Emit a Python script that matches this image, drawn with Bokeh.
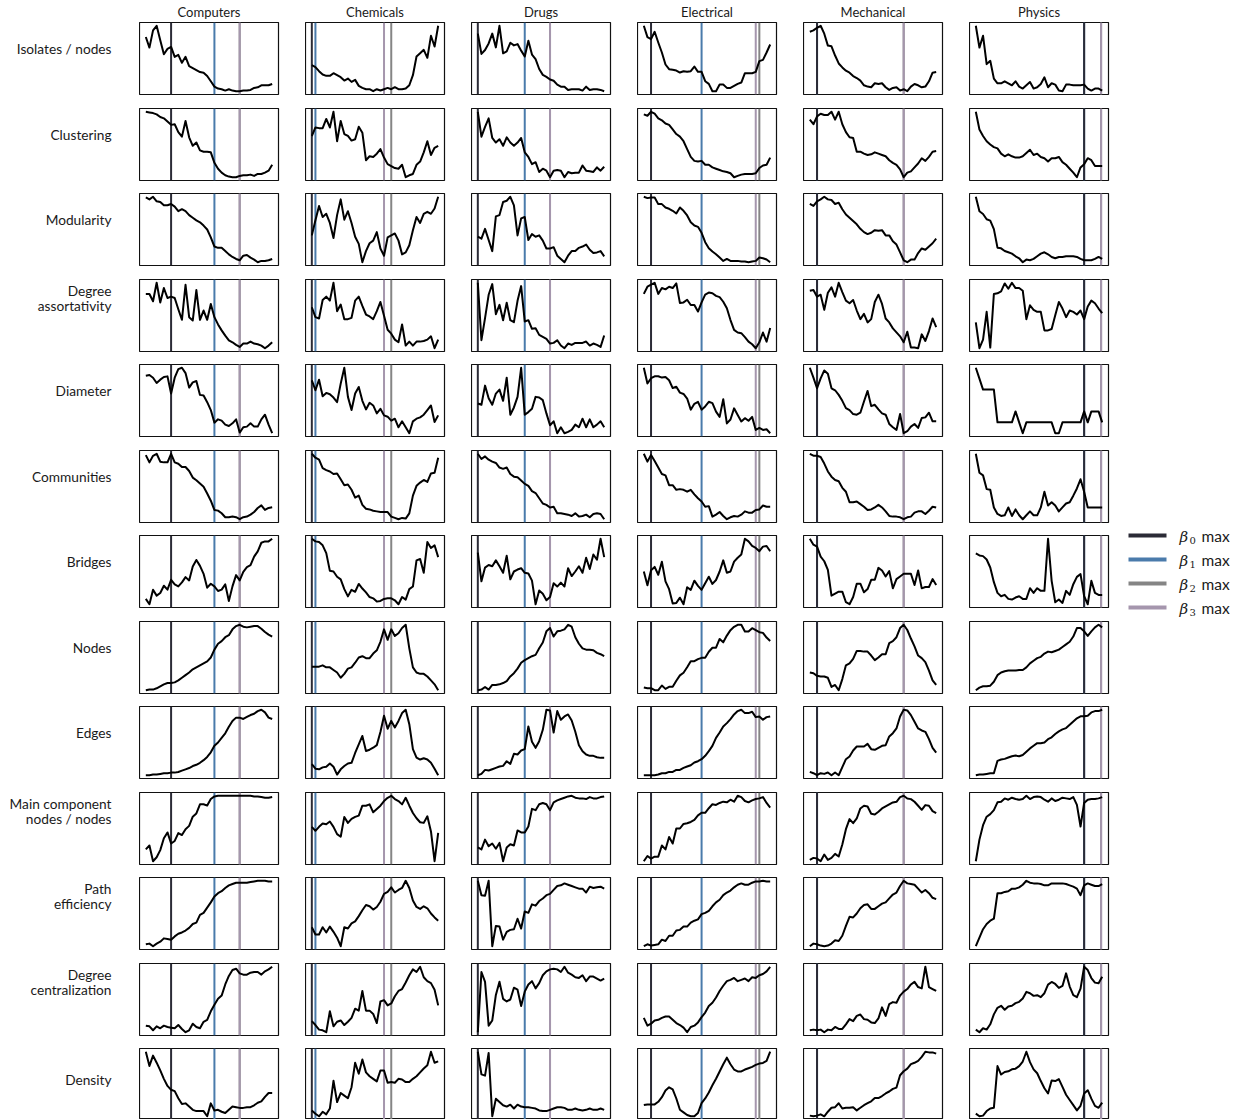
from bokeh.plotting import figure
from bokeh.layouts import row, column
from bokeh.models import Range1d, Span
from bokeh.embed import file_html
from bokeh.resources import INLINE
from bokeh.core.properties import value

fields = ["Computers", "Chemicals", "Drugs", "Electrical", "Mechanical", "Physics"]
steps = list(range(36))

# one list per field (order as in `fields`), each value a relative level along the 36 steps
isolates_nodes = [
    [83, 67, 93, 100, 78, 57, 65, 68, 53, 56, 44, 53, 39, 36, 33, 30, 29, 24, 16, 8, 5, 4, 2, 4, 2, 1, 1, 2, 2, 3, 6, 7, 10, 10, 10, 12],
    [41, 38, 32, 27, 25, 25, 29, 26, 23, 18, 21, 16, 19, 10, 7, 5, 5, 2, 5, 3, 5, 7, 5, 8, 5, 5, 6, 11, 26, 54, 59, 64, 52, 85, 69, 100],
    [88, 57, 63, 73, 88, 67, 100, 58, 61, 74, 70, 72, 62, 53, 77, 56, 49, 34, 25, 22, 18, 16, 10, 7, 7, 2, 3, 3, 3, 1, 7, 2, 3, 3, 2, 0],
    [100, 83, 80, 91, 75, 60, 42, 35, 34, 33, 30, 32, 31, 32, 39, 31, 31, 17, 13, 2, 2, 12, 12, 7, 7, 10, 13, 15, 29, 29, 29, 31, 47, 49, 60, 72],
    [91, 93, 97, 100, 88, 70, 69, 55, 43, 37, 32, 29, 24, 21, 17, 10, 8, 7, 13, 12, 13, 7, 3, 6, 7, 2, 4, 1, 8, 12, 10, 7, 8, 16, 29, 30],
    [100, 67, 85, 42, 47, 20, 13, 13, 16, 13, 10, 16, 8, 5, 10, 15, 5, 7, 12, 22, 7, 13, 11, 2, 1, 11, 11, 10, 10, 10, 11, 5, 2, 5, 5, 2],
]
clustering = [
    [100, 99, 98, 96, 92, 90, 85, 80, 81, 69, 62, 86, 61, 48, 53, 41, 39, 39, 38, 22, 13, 7, 3, 1, 0, 0, 2, 3, 3, 4, 2, 5, 5, 7, 10, 19],
    [63, 76, 75, 75, 89, 76, 100, 55, 86, 66, 63, 56, 58, 77, 68, 26, 32, 31, 36, 43, 30, 20, 17, 14, 13, 19, 0, 3, 5, 19, 24, 38, 55, 34, 45, 48],
    [100, 62, 77, 90, 60, 53, 58, 48, 61, 53, 48, 53, 60, 38, 31, 20, 23, 8, 13, 10, 0, 10, 11, 10, 0, 8, 6, 7, 7, 18, 10, 9, 8, 15, 10, 16],
    [96, 94, 100, 97, 90, 87, 82, 80, 73, 66, 62, 55, 43, 31, 25, 24, 25, 19, 19, 15, 13, 11, 9, 8, 6, 0, 2, 4, 5, 5, 5, 6, 14, 18, 19, 30],
    [88, 81, 93, 97, 95, 95, 100, 88, 100, 81, 69, 61, 60, 39, 39, 36, 34, 35, 38, 36, 34, 32, 26, 22, 19, 12, 0, 7, 9, 15, 21, 29, 25, 31, 39, 40],
    [100, 73, 63, 55, 50, 46, 44, 36, 32, 35, 32, 30, 30, 32, 37, 42, 34, 36, 31, 29, 24, 29, 29, 31, 23, 19, 13, 7, 0, 15, 20, 29, 26, 17, 17, 17],
]
modularity = [
    [99, 96, 100, 93, 92, 87, 87, 89, 85, 78, 81, 78, 72, 68, 64, 61, 56, 50, 38, 24, 22, 22, 17, 12, 8, 5, 3, 10, 11, 7, 4, 0, 2, 2, 3, 5],
    [41, 64, 86, 69, 74, 60, 37, 72, 96, 65, 78, 60, 39, 28, 0, 17, 29, 33, 46, 21, 10, 38, 41, 44, 33, 12, 15, 26, 49, 69, 60, 74, 77, 74, 82, 100],
    [39, 36, 51, 34, 17, 70, 72, 92, 94, 100, 87, 41, 67, 69, 34, 43, 39, 41, 33, 21, 21, 23, 10, 5, 0, 10, 17, 17, 22, 24, 27, 19, 14, 15, 17, 9],
    [100, 98, 99, 99, 89, 89, 84, 82, 79, 75, 84, 79, 72, 62, 57, 55, 46, 32, 23, 18, 14, 9, 4, 7, 4, 4, 4, 3, 3, 2, 3, 4, 9, 8, 6, 2],
    [89, 86, 93, 96, 100, 96, 95, 89, 91, 81, 73, 68, 63, 58, 51, 46, 43, 45, 49, 48, 49, 41, 41, 32, 27, 15, 3, 0, 4, 4, 14, 21, 19, 24, 29, 36],
    [100, 78, 74, 66, 64, 51, 23, 22, 18, 16, 14, 10, 7, 1, 5, 4, 6, 10, 14, 16, 13, 9, 7, 9, 9, 10, 10, 10, 9, 6, 4, 4, 4, 6, 9, 6],
]
degree_assortativity = [
    [82, 82, 71, 99, 69, 91, 76, 78, 76, 59, 43, 96, 47, 42, 88, 43, 57, 43, 67, 47, 36, 27, 19, 12, 9, 5, 2, 7, 7, 10, 7, 6, 4, 0, 4, 9],
    [63, 48, 46, 74, 79, 73, 100, 57, 67, 45, 45, 47, 73, 79, 65, 52, 49, 45, 57, 71, 50, 29, 23, 14, 10, 37, 5, 11, 5, 11, 11, 12, 14, 19, 1, 14],
    [100, 14, 47, 82, 98, 53, 67, 44, 70, 44, 41, 73, 95, 42, 44, 31, 32, 22, 19, 16, 9, 10, 14, 6, 2, 9, 7, 10, 10, 10, 12, 6, 9, 7, 4, 21],
    [83, 94, 97, 100, 83, 92, 90, 94, 92, 99, 69, 70, 74, 66, 66, 56, 70, 82, 85, 84, 80, 78, 71, 61, 43, 28, 24, 23, 17, 10, 6, 0, 9, 24, 10, 31],
    [88, 89, 79, 82, 59, 85, 93, 79, 100, 86, 73, 69, 74, 58, 45, 53, 40, 45, 71, 82, 68, 46, 40, 31, 25, 19, 10, 26, 2, 2, 1, 22, 12, 27, 46, 33],
    [40, 1, 14, 56, 2, 83, 84, 87, 99, 91, 100, 92, 92, 88, 45, 66, 59, 56, 56, 28, 28, 30, 51, 71, 61, 48, 58, 56, 52, 58, 45, 64, 73, 69, 61, 54],
]
diameter = [
    [87, 88, 84, 76, 81, 85, 86, 60, 84, 97, 99, 91, 69, 77, 79, 58, 57, 47, 35, 16, 21, 19, 13, 11, 15, 21, 1, 9, 10, 15, 10, 10, 21, 28, 13, 0],
    [81, 66, 82, 57, 62, 60, 55, 48, 76, 100, 56, 36, 61, 71, 50, 37, 47, 43, 31, 38, 28, 26, 20, 23, 10, 19, 10, 1, 19, 23, 25, 29, 36, 43, 18, 28],
    [46, 44, 73, 54, 44, 61, 67, 50, 85, 29, 40, 56, 100, 29, 33, 38, 56, 55, 51, 31, 13, 19, 1, 10, 1, 3, 6, 14, 10, 23, 10, 22, 10, 14, 19, 10],
    [100, 76, 84, 87, 87, 85, 86, 81, 69, 71, 62, 60, 53, 36, 45, 48, 36, 41, 48, 46, 33, 25, 52, 15, 21, 38, 28, 18, 23, 19, 25, 5, 8, 5, 6, 0],
    [100, 85, 69, 84, 96, 91, 69, 66, 59, 50, 39, 36, 30, 29, 32, 49, 65, 42, 44, 37, 31, 29, 15, 10, 6, 30, 1, 4, 11, 15, 9, 24, 25, 32, 19, 19],
    [8, 7, 6, 6, 6, 6, 3, 3, 3, 3, 3, 4, 3, 2, 3, 3, 3, 3, 3, 3, 3, 3, 2, 2, 3, 3, 3, 3, 3, 3, 4, 3, 4, 4, 4, 3],
]
communities = [
    [97, 86, 96, 99, 87, 86, 86, 99, 86, 84, 79, 79, 73, 63, 59, 54, 49, 39, 28, 14, 13, 9, 3, 3, 4, 3, 0, 3, 4, 7, 11, 17, 21, 14, 17, 18],
    [100, 94, 91, 78, 75, 73, 69, 70, 61, 52, 53, 45, 33, 36, 22, 16, 15, 13, 12, 11, 11, 11, 4, 2, 0, 2, 1, 9, 36, 51, 56, 60, 57, 70, 71, 94],
    [100, 92, 96, 91, 88, 86, 79, 77, 79, 69, 65, 64, 59, 54, 51, 43, 40, 32, 24, 22, 18, 19, 9, 9, 8, 7, 5, 9, 4, 5, 7, 3, 8, 9, 8, 0],
    [100, 88, 98, 89, 79, 69, 67, 52, 52, 45, 46, 45, 42, 45, 38, 32, 27, 19, 20, 4, 7, 11, 5, 0, 3, 5, 4, 7, 12, 10, 10, 14, 15, 21, 19, 19],
    [100, 97, 97, 95, 85, 73, 65, 60, 58, 48, 42, 26, 26, 27, 23, 19, 14, 15, 18, 22, 18, 12, 5, 4, 4, 3, 0, 3, 4, 10, 12, 12, 8, 13, 19, 18],
    [100, 71, 67, 46, 45, 18, 8, 5, 6, 18, 5, 15, 6, 0, 6, 12, 6, 6, 18, 42, 21, 26, 21, 12, 18, 24, 26, 36, 47, 61, 42, 18, 18, 18, 18, 18],
]
bridges = [
    [9, 1, 23, 14, 18, 29, 23, 38, 31, 28, 34, 42, 37, 58, 68, 59, 47, 26, 32, 28, 21, 23, 31, 6, 28, 45, 37, 50, 57, 60, 73, 81, 94, 96, 96, 100],
    [100, 96, 95, 90, 78, 51, 50, 42, 38, 23, 12, 22, 19, 31, 24, 18, 11, 9, 4, 5, 8, 9, 9, 6, 0, 11, 7, 23, 27, 67, 69, 48, 95, 86, 90, 72],
    [79, 35, 56, 60, 58, 67, 58, 48, 74, 38, 50, 53, 55, 48, 47, 36, 0, 21, 16, 6, 11, 32, 27, 33, 27, 55, 43, 50, 58, 48, 71, 54, 76, 68, 100, 72],
    [50, 29, 52, 57, 45, 65, 35, 23, 1, 2, 10, 0, 26, 22, 36, 28, 22, 32, 42, 31, 37, 50, 67, 48, 50, 65, 71, 76, 100, 96, 89, 86, 81, 88, 89, 81],
    [100, 91, 88, 73, 66, 53, 14, 17, 20, 20, 4, 1, 12, 32, 32, 19, 24, 38, 38, 56, 52, 43, 51, 25, 39, 43, 47, 47, 47, 30, 52, 25, 27, 27, 39, 30],
    [78, 75, 74, 69, 57, 35, 19, 14, 16, 10, 9, 12, 14, 10, 10, 26, 19, 26, 22, 22, 100, 37, 5, 9, 4, 22, 16, 32, 43, 47, 14, 2, 37, 19, 16, 16],
]
nodes = [
    [0, 1, 1, 3, 6, 9, 11, 11, 12, 15, 19, 23, 27, 32, 35, 38, 41, 44, 50, 62, 71, 75, 81, 84, 93, 98, 100, 97, 96, 97, 98, 98, 94, 89, 85, 82],
    [36, 36, 36, 38, 35, 35, 31, 27, 19, 25, 33, 35, 42, 50, 52, 49, 49, 56, 61, 74, 93, 77, 93, 83, 87, 95, 100, 64, 35, 27, 25, 25, 21, 15, 9, 0],
    [0, 1, 5, 1, 8, 8, 9, 11, 14, 21, 26, 33, 42, 46, 49, 52, 54, 64, 73, 90, 95, 82, 90, 91, 93, 100, 97, 81, 71, 64, 62, 62, 61, 57, 55, 52],
    [5, 4, 4, 1, 1, 8, 3, 6, 6, 15, 23, 27, 35, 44, 44, 47, 49, 49, 58, 64, 64, 77, 72, 82, 90, 95, 98, 98, 88, 88, 93, 90, 87, 86, 79, 74],
    [27, 26, 22, 21, 21, 19, 5, 8, 0, 17, 38, 41, 48, 60, 60, 59, 59, 53, 46, 50, 55, 55, 72, 75, 81, 95, 100, 92, 79, 67, 53, 49, 43, 30, 15, 8],
    [0, 4, 6, 6, 7, 13, 23, 27, 29, 30, 30, 30, 31, 31, 35, 41, 45, 49, 51, 56, 59, 58, 60, 62, 66, 70, 74, 82, 95, 95, 90, 83, 90, 96, 100, 96],
]
edges = [
    [0, 0, 1, 1, 2, 3, 3, 4, 4, 5, 7, 9, 11, 14, 16, 19, 23, 28, 35, 45, 50, 57, 64, 74, 83, 88, 88, 86, 89, 92, 94, 98, 100, 96, 88, 86],
    [17, 10, 9, 12, 13, 18, 13, 1, 9, 14, 18, 19, 34, 47, 60, 37, 39, 42, 46, 66, 91, 71, 83, 73, 83, 95, 100, 78, 40, 27, 24, 26, 24, 19, 10, 0],
    [0, 2, 8, 7, 9, 11, 13, 14, 21, 17, 32, 31, 37, 39, 73, 50, 41, 51, 68, 98, 97, 64, 96, 83, 88, 91, 82, 65, 45, 36, 31, 29, 29, 27, 26, 26],
    [0, 0, 0, 0, 1, 3, 3, 5, 5, 8, 8, 11, 13, 15, 19, 21, 24, 29, 36, 44, 56, 64, 73, 78, 84, 91, 96, 98, 93, 93, 95, 87, 88, 83, 87, 88],
    [5, 3, 0, 3, 2, 4, 0, 4, 0, 12, 24, 28, 37, 43, 43, 43, 47, 39, 38, 41, 44, 45, 58, 63, 70, 88, 98, 97, 90, 80, 70, 67, 65, 54, 41, 34],
    [0, 1, 1, 2, 3, 3, 22, 24, 25, 27, 29, 30, 29, 31, 36, 41, 45, 49, 49, 50, 55, 58, 63, 67, 70, 72, 77, 82, 87, 90, 90, 91, 96, 98, 98, 100],
]
main_component = [
    [18, 24, 0, 6, 17, 35, 44, 27, 31, 43, 40, 49, 54, 68, 73, 87, 87, 85, 95, 99, 100, 100, 100, 100, 100, 100, 100, 100, 100, 100, 99, 99, 98, 97, 97, 98],
    [52, 46, 52, 57, 56, 60, 52, 41, 37, 67, 58, 64, 67, 69, 84, 84, 86, 74, 79, 84, 91, 96, 99, 94, 91, 86, 96, 84, 73, 65, 59, 58, 68, 45, 0, 43],
    [21, 18, 33, 23, 27, 19, 28, 0, 21, 26, 24, 47, 44, 44, 53, 80, 78, 87, 89, 87, 78, 90, 93, 95, 97, 99, 100, 97, 96, 96, 95, 98, 96, 96, 98, 99],
    [0, 8, 4, 7, 7, 24, 18, 37, 27, 50, 50, 57, 58, 60, 63, 70, 74, 74, 81, 87, 86, 89, 91, 90, 94, 91, 100, 98, 92, 90, 93, 95, 96, 98, 89, 82],
    [4, 7, 6, 2, 12, 4, 7, 13, 9, 27, 50, 65, 59, 66, 81, 85, 84, 73, 72, 76, 81, 84, 87, 90, 91, 98, 100, 96, 95, 91, 85, 79, 86, 85, 77, 74],
    [0, 33, 55, 68, 72, 78, 90, 91, 96, 94, 97, 95, 94, 95, 100, 95, 98, 99, 98, 94, 91, 96, 92, 94, 97, 96, 95, 98, 86, 53, 89, 94, 95, 95, 96, 98],
]
path_efficiency = [
    [3, 4, 0, 4, 7, 12, 11, 10, 15, 19, 21, 24, 28, 34, 36, 48, 51, 59, 67, 76, 81, 84, 89, 93, 95, 97, 97, 97, 97, 98, 99, 100, 100, 100, 99, 99],
    [29, 18, 18, 29, 21, 30, 22, 13, 0, 29, 27, 35, 38, 46, 55, 63, 61, 56, 60, 68, 80, 83, 90, 82, 86, 89, 100, 89, 70, 60, 57, 61, 58, 50, 44, 39],
    [100, 78, 77, 100, 0, 31, 30, 10, 22, 25, 26, 42, 27, 53, 51, 64, 62, 69, 73, 78, 80, 86, 92, 93, 96, 94, 92, 90, 88, 88, 82, 91, 89, 90, 91, 88],
    [0, 3, 1, 2, 3, 10, 8, 16, 16, 24, 25, 30, 30, 36, 39, 41, 49, 51, 54, 61, 67, 71, 78, 82, 85, 90, 94, 96, 94, 94, 97, 99, 99, 100, 99, 99],
    [0, 4, 3, 1, 0, 1, 4, 9, 8, 16, 31, 45, 44, 50, 58, 63, 64, 57, 57, 61, 65, 67, 73, 79, 82, 92, 100, 96, 95, 94, 88, 82, 86, 81, 74, 72],
    [0, 13, 26, 34, 39, 42, 81, 81, 83, 84, 88, 88, 90, 94, 100, 97, 96, 96, 95, 93, 93, 96, 96, 96, 96, 95, 93, 91, 88, 78, 93, 96, 94, 92, 92, 95],
]
degree_centralization = [
    [10, 9, 3, 9, 6, 10, 8, 7, 6, 11, 5, 0, 3, 13, 8, 6, 16, 19, 32, 42, 51, 56, 73, 86, 95, 97, 90, 88, 88, 91, 92, 92, 88, 93, 96, 100],
    [17, 11, 4, 3, 0, 32, 9, 16, 18, 11, 16, 22, 36, 33, 63, 33, 33, 28, 14, 47, 49, 41, 44, 55, 63, 66, 76, 87, 96, 92, 100, 84, 78, 75, 65, 41],
    [0, 92, 77, 10, 18, 57, 77, 51, 47, 50, 68, 65, 40, 62, 73, 78, 67, 75, 87, 93, 96, 97, 96, 92, 100, 91, 88, 84, 83, 87, 78, 85, 85, 82, 79, 82],
    [22, 10, 13, 18, 19, 22, 24, 24, 19, 14, 11, 7, 0, 8, 10, 15, 23, 30, 40, 45, 53, 63, 71, 78, 80, 83, 78, 80, 82, 78, 84, 83, 87, 89, 93, 100],
    [3, 4, 3, 4, 0, 4, 3, 8, 5, 5, 12, 20, 17, 25, 27, 20, 19, 15, 14, 21, 38, 25, 43, 46, 45, 56, 62, 66, 73, 77, 69, 67, 100, 69, 66, 63],
    [5, 1, 7, 5, 13, 28, 38, 41, 35, 40, 41, 45, 47, 52, 62, 60, 56, 57, 54, 60, 73, 77, 74, 68, 71, 90, 70, 57, 54, 67, 100, 95, 83, 76, 75, 85],
]
density = [
    [100, 78, 94, 83, 71, 58, 47, 41, 39, 28, 19, 20, 15, 10, 8, 8, 8, 0, 20, 9, 10, 7, 5, 10, 15, 14, 13, 13, 14, 14, 17, 21, 23, 30, 36, 36],
    [9, 4, 0, 7, 3, 12, 55, 22, 36, 32, 28, 45, 83, 66, 88, 68, 62, 58, 54, 71, 71, 52, 53, 52, 58, 57, 53, 53, 58, 62, 68, 74, 79, 100, 83, 85],
    [100, 65, 63, 98, 0, 27, 22, 17, 15, 18, 12, 18, 15, 14, 14, 13, 12, 9, 8, 8, 10, 12, 14, 14, 13, 10, 10, 12, 10, 9, 10, 12, 10, 10, 12, 10],
    [19, 20, 20, 20, 24, 31, 41, 46, 43, 29, 12, 8, 4, 2, 2, 7, 22, 29, 38, 49, 59, 70, 81, 91, 81, 73, 70, 70, 73, 75, 77, 80, 82, 83, 86, 100],
    [2, 1, 2, 4, 1, 8, 14, 15, 21, 13, 14, 14, 15, 10, 14, 18, 21, 24, 29, 29, 32, 36, 39, 43, 45, 64, 70, 74, 81, 83, 86, 92, 100, 99, 99, 97],
    [5, 1, 2, 9, 13, 14, 78, 65, 69, 70, 73, 74, 78, 85, 100, 84, 73, 67, 55, 44, 36, 56, 55, 58, 46, 34, 26, 18, 10, 17, 36, 41, 28, 17, 14, 22],
]

measures = [
    ("Isolates / nodes", isolates_nodes),
    ("Clustering", clustering),
    ("Modularity", modularity),
    ("Degree\nassortativity", degree_assortativity),
    ("Diameter", diameter),
    ("Communities", communities),
    ("Bridges", bridges),
    ("Nodes", nodes),
    ("Edges", edges),
    ("Main component\nnodes / nodes", main_component),
    ("Path\nefficiency", path_efficiency),
    ("Degree\ncentralization", degree_centralization),
    ("Density", density),
]

# step at which each Betti number reaches its maximum, per field
beta0_max = [7, 0, 0, 2, 2, 30]
beta1_max = [19, 1, 13, 16, 2, 30]
beta2_max = [26, 22, 20, 32, 26, 34.7]
beta3_max = [26, 20, 20, 31, 26, 34.7]

beta_labels = ["0", "1", "2", "3"]
beta_colors = ["#2b2b36", "#4a7bab", "#858585", "#a596ad"]

FONT = "Lato"
LABEL_W = 139
FRAME_W = 139
FRAME_H = 72
GAP = 27
LAST_GAP = 15
LEGEND_W = 117
HEADER_H = 22
LINE_STEP = 18
LABEL_Y = 31
row_tops = [round(22.3 + 85.5 * i) for i in range(13)] + [1119]
row_heights = [row_tops[i + 1] - row_tops[i] for i in range(13)]
TOTAL_H = HEADER_H + sum(row_heights)


def blank(width, height, xr, yr):
    p = figure(width=width, height=height, x_range=xr, y_range=yr,
               toolbar_location=None, output_backend="svg",
               x_axis_location=None, y_axis_location=None,
               min_border_left=0, min_border_right=0,
               min_border_top=0, min_border_bottom=0)
    p.grid.visible = False
    p.outline_line_color = None
    return p


def panel(ys, ci, height):
    lo, hi = min(ys), max(ys)
    pad = 0.05 * (hi - lo)
    right = LAST_GAP if ci == len(fields) - 1 else GAP
    frame_h = min(FRAME_H, height)
    p = figure(width=FRAME_W + right, height=height,
               x_range=Range1d(-1.75, 36.75), y_range=Range1d(lo - pad, hi + pad),
               toolbar_location=None, output_backend="svg",
               x_axis_location=None, y_axis_location=None,
               min_border_left=0, min_border_right=right,
               min_border_top=0, min_border_bottom=height - frame_h)
    p.grid.visible = False
    p.outline_line_color = "#111111"
    p.outline_line_width = 1.2
    marks = [beta0_max, beta1_max, beta2_max, beta3_max]
    for k in (1, 2, 3, 0):
        p.add_layout(Span(location=marks[k][ci], dimension="height",
                          line_color=beta_colors[k], line_width=2, level="underlay"))
    p.line(steps, ys, line_color="black", line_width=2, line_join="round")
    return p


# column titles
header = [blank(LABEL_W, HEADER_H, Range1d(0, LABEL_W), Range1d(HEADER_H, 0))]
for ci, name in enumerate(fields):
    w = FRAME_W + (LAST_GAP if ci == len(fields) - 1 else GAP)
    h = blank(w, HEADER_H, Range1d(0, w), Range1d(HEADER_H, 0))
    h.text(x=[FRAME_W / 2], y=[11.5], text=[name], text_font=value(FONT),
           text_font_size="13px", text_align="center", text_baseline="middle",
           text_color="#1a1a1a")
    header.append(h)

rows = [row(*header)]
for ri, (label, series) in enumerate(measures):
    height = row_heights[ri]
    lab = blank(LABEL_W, height, Range1d(0, LABEL_W), Range1d(height, 0))
    lines = label.split("\n")
    n = len(lines)
    lab.text(x=[111] * n, y=[LABEL_Y - LINE_STEP * (n - 1 - j) for j in range(n)], text=lines,
             text_font=value(FONT), text_font_size="13.7px", text_align="right",
             text_baseline="middle", text_color="#1a1a1a")
    cells = [lab] + [panel(series[ci], ci, height) for ci in range(len(fields))]
    rows.append(row(*cells))

# legend for the Betti-number maxima
leg = blank(LEGEND_W, TOTAL_H, Range1d(0, LEGEND_W), Range1d(TOTAL_H, 0))
leg_y = [535 + 24 * k for k in range(4)]
leg.segment(x0=[5] * 4, x1=[43] * 4, y0=leg_y, y1=leg_y, line_color=beta_colors, line_width=4)
leg.text(x=[56] * 4, y=[y + 1 for y in leg_y], text=["β"] * 4, text_font=value("DejaVu Serif"),
         text_font_style="italic", text_font_size="15px", text_baseline="middle",
         text_color="#1a1a1a")
leg.text(x=[66] * 4, y=[y + 5 for y in leg_y], text=beta_labels, text_font=value("DejaVu Serif"),
         text_font_size="10px", text_baseline="middle", text_color="#1a1a1a")
leg.text(x=[78] * 4, y=leg_y, text=["max"] * 4, text_font=value(FONT),
         text_font_size="15.5px", text_baseline="middle", text_color="#1a1a1a")

layout = row(column(*rows), leg)

with open("out.html", "w") as f:
    f.write(file_html(layout, INLINE, "Network measures"))
